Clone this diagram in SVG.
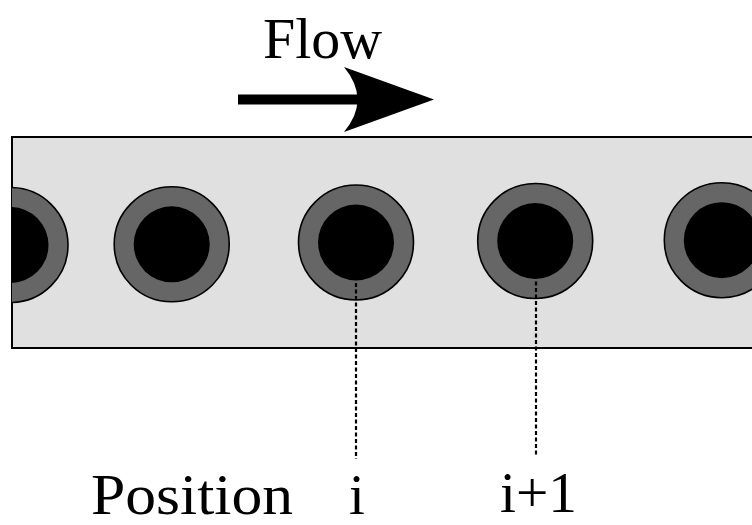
<svg xmlns="http://www.w3.org/2000/svg" width="752" height="525" viewBox="0 0 752 525">
<style>
.txt{font-family:"Liberation Serif","Times New Roman",serif;font-size:57px;fill:#000}
.outer{fill:#666666;stroke:#000;stroke-width:1.6}
.inner{fill:#000}
.dash{stroke:#000;stroke-width:2.2;stroke-dasharray:4 2.5;fill:none}
</style>
<defs>
<clipPath id="bandClip"><rect x="12" y="137" width="760" height="211"/></clipPath>
</defs>
<rect width="752" height="525" fill="#fff"/>
<g id="flow-label">
<text class="txt" x="263" y="58" textLength="119" lengthAdjust="spacingAndGlyphs">Flow</text>
</g>
<g id="flow-arrow">
<rect x="238" y="94.5" width="124" height="10" fill="#000"/>
<path d="M344,67 L434,99.5 L344,132 Q371,99.5 344,67 Z" fill="#000"/>
</g>
<g id="channel">
<rect x="12" y="137" width="760" height="211" fill="#e0e0e0" stroke="#000" stroke-width="2"/>
</g>
<g clip-path="url(#bandClip)">
<g id="particle-0"><circle class="outer" cx="10.5" cy="245" r="57.5"/><circle class="inner" cx="10.5" cy="245" r="38"/></g>
<g id="particle-1"><circle class="outer" cx="171.7" cy="244.3" r="57.5"/><circle class="inner" cx="171.7" cy="244.3" r="38"/></g>
<g id="particle-i"><circle class="outer" cx="356" cy="242.5" r="57.5"/><circle class="inner" cx="356" cy="242.5" r="38"/></g>
<g id="particle-i1"><circle class="outer" cx="535.2" cy="241" r="57.5"/><circle class="inner" cx="535.2" cy="241" r="38"/></g>
<g id="particle-4"><circle class="outer" cx="721.8" cy="240.2" r="57.5"/><circle class="inner" cx="721.8" cy="240.2" r="38"/></g>
</g>
<g id="connectors">
<line class="dash" x1="356" y1="283" x2="356" y2="459"/>
<line class="dash" x1="536" y1="281.5" x2="536" y2="456"/>
</g>
<g id="labels">
<text class="txt" x="91" y="514" textLength="202" lengthAdjust="spacingAndGlyphs">Position</text>
<text class="txt" x="349" y="514">i</text>
<text class="txt" x="500" y="512" textLength="77" lengthAdjust="spacingAndGlyphs">i+1</text>
</g>
</svg>
